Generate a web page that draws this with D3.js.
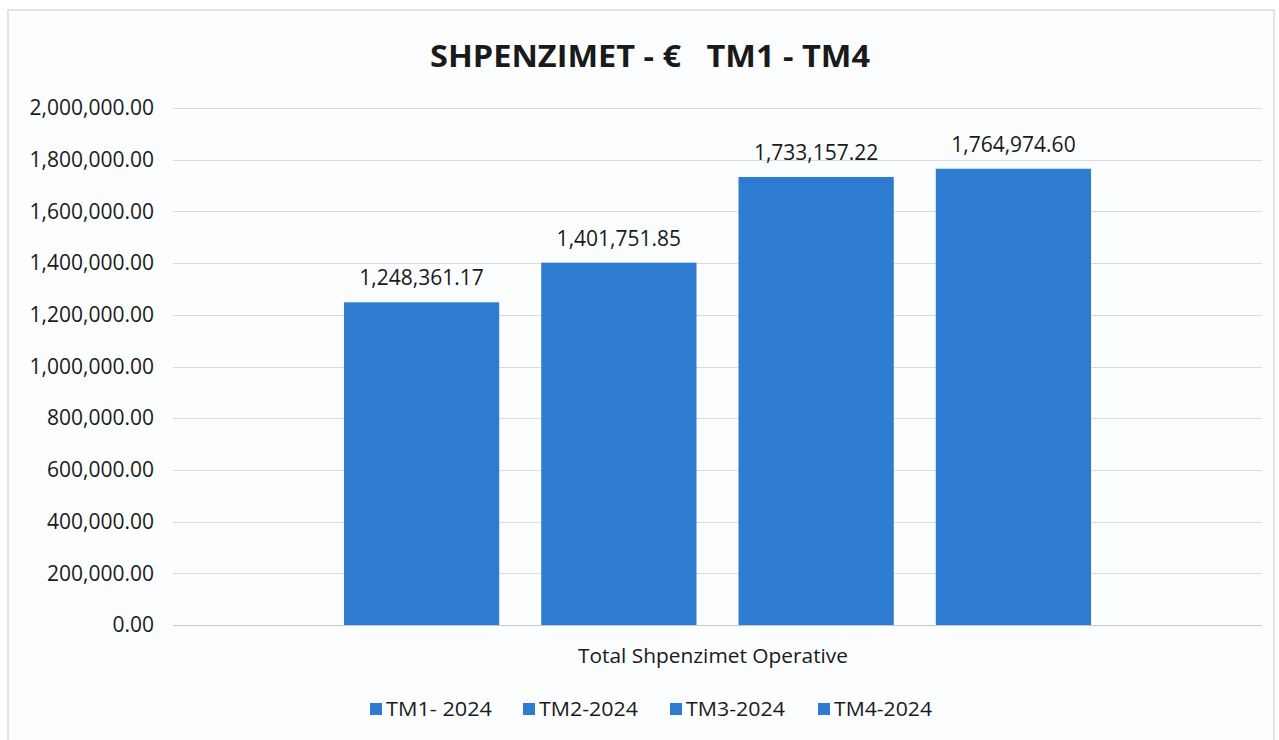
<!DOCTYPE html>
<html>
<head>
<meta charset="utf-8">
<script src="https://cdn.jsdelivr.net/npm/d3@7"></script>
<style>
  body { margin: 0; background: #ffffff; }
  text { font-family: "Open Sans", "Noto Sans", sans-serif; fill: #1a1a1a; }
</style>
</head>
<body>
<svg id="chart" width="1279" height="740"></svg>
<script>
// data
const category = "Total Shpenzimet Operative";
const series = ["TM1- 2024", "TM2-2024", "TM3-2024", "TM4-2024"];
const values = [1248361.17, 1401751.85, 1733157.22, 1764974.60];
const yTicks = [0, 200000, 400000, 600000, 800000, 1000000, 1200000, 1400000, 1600000, 1800000, 2000000];
const chartTitle = "SHPENZIMET - €   TM1 - TM4";

const svg = d3.select("#chart");
const barColor = "#2e7cd1";
const fmt = d3.format(",.2f");

// chart frame (scanned page look)
svg.append("rect")
  .attr("x", 8).attr("y", 10)
  .attr("width", 1266).attr("height", 740)
  .attr("fill", "#fcfdff")
  .attr("stroke", "#c9c9c9")
  .attr("stroke-width", 1);

const plot = { left: 173, right: 1262, top: 108, bottom: 625 };

const y = d3.scaleLinear()
  .domain([0, 2000000])
  .range([plot.bottom, plot.top]);

const x0 = d3.scaleBand()
  .domain([category])
  .range([plot.left, plot.right])
  .paddingOuter(0.19);

const x1 = d3.scaleBand()
  .domain(series)
  .range([0, x0.bandwidth()])
  .paddingInner(0.213)
  .paddingOuter(0.1065);

// gridlines
svg.append("g")
  .selectAll("line")
  .data(yTicks)
  .join("line")
  .attr("x1", plot.left).attr("x2", plot.right)
  .attr("y1", d => Math.round(y(d)) + 0.5)
  .attr("y2", d => Math.round(y(d)) + 0.5)
  .attr("stroke", d => d === 0 ? "#c3c7cf" : "#d9dce3")
  .attr("stroke-width", 1);

// y axis labels
const yAxis = d3.axisLeft(y)
  .tickValues(yTicks)
  .tickFormat(fmt)
  .tickSize(0)
  .tickPadding(0);

svg.append("g")
  .attr("transform", "translate(154,0)")
  .call(yAxis)
  .call(g => g.select(".domain").remove())
  .selectAll("text")
  .attr("font-size", "21px")
  .attr("font-family", "'Open Sans', sans-serif")
  .attr("fill", "#1a1a1a");

// bars
const barGroup = svg.append("g")
  .attr("transform", `translate(${x0(category)},0)`);

barGroup.selectAll("rect")
  .data(values)
  .join("rect")
  .attr("x", (d, i) => x1(series[i]))
  .attr("y", d => y(d))
  .attr("width", x1.bandwidth())
  .attr("height", d => y(0) - y(d))
  .attr("fill", barColor);

// data labels
barGroup.selectAll("text")
  .data(values)
  .join("text")
  .attr("x", (d, i) => x1(series[i]) + x1.bandwidth() / 2)
  .attr("y", d => y(d) - 17)
  .attr("text-anchor", "middle")
  .attr("font-size", "21px")
  .text(d => fmt(d));

// category label
svg.append("text")
  .attr("x", 713)
  .attr("y", 663)
  .attr("text-anchor", "middle")
  .attr("font-size", "20px")
  .attr("textLength", 270)
  .attr("lengthAdjust", "spacingAndGlyphs")
  .text(category);

// title
svg.append("text")
  .attr("x", 650)
  .attr("y", 67)
  .attr("text-anchor", "middle")
  .attr("font-size", "31px")
  .attr("font-weight", "bold")
  .attr("textLength", 440)
  .attr("lengthAdjust", "spacingAndGlyphs")
  .style("white-space", "pre")
  .text(chartTitle);

// legend
const legendX = [370, 523, 670, 818];
const legendW = [106, 99, 99, 98];
const legend = svg.append("g");
const items = legend.selectAll("g")
  .data(series)
  .join("g")
  .attr("transform", (d, i) => `translate(${legendX[i]},709)`);

items.append("rect")
  .attr("x", 0).attr("y", -6)
  .attr("width", 12).attr("height", 12)
  .attr("fill", barColor);

items.append("text")
  .attr("x", 16)
  .attr("y", 7)
  .attr("font-size", "20px")
  .attr("textLength", (d, i) => legendW[i])
  .attr("lengthAdjust", "spacingAndGlyphs")
  .text(d => d);
</script>
</body>
</html>
